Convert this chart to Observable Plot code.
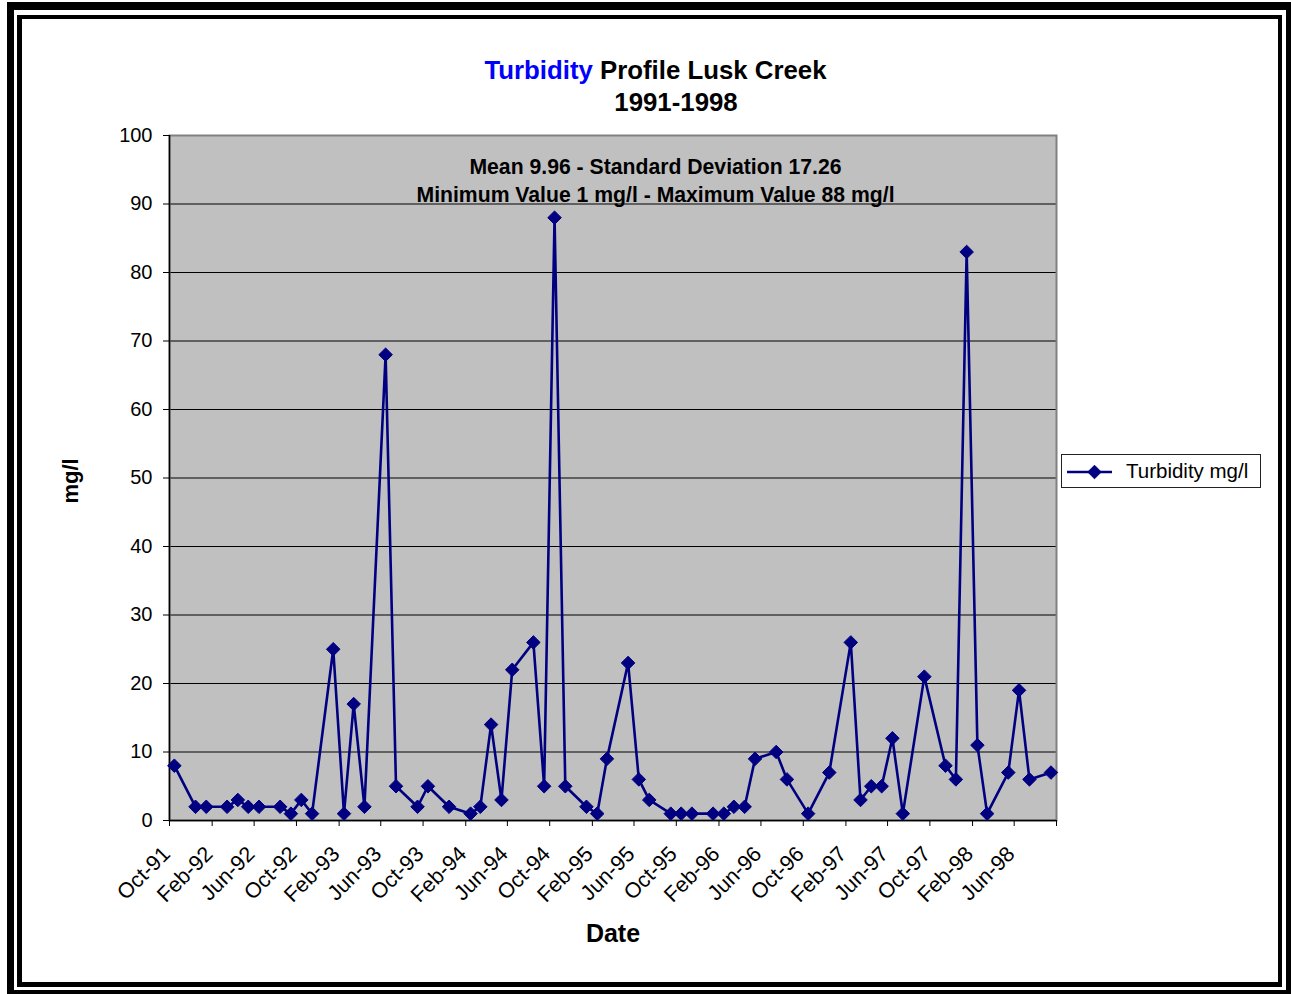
<!DOCTYPE html>
<html><head><meta charset="utf-8">
<script src="https://cdn.jsdelivr.net/npm/d3@7"></script>
<script src="https://cdn.jsdelivr.net/npm/@observablehq/plot@0.6"></script>
<style>
body{margin:0;background:#fff;}
#wrap{position:relative;width:1291px;height:994px;overflow:hidden;background:#fff;font-family:"Liberation Sans",Arial,sans-serif;}
#wrap > svg{position:absolute;left:0;top:0;}
</style></head><body><div id="wrap"></div>
<script>
// ---- data ----
const sampleMonths = ["Oct-91","Dec-91","Jan-92","Mar-92","Apr-92","May-92","Jun-92","Aug-92","Sep-92","Oct-92","Nov-92",
  "Jan-93","Feb-93","Mar-93","Apr-93","Jun-93","Jul-93","Sep-93","Oct-93","Dec-93",
  "Feb-94","Mar-94","Apr-94","May-94","Jun-94","Aug-94","Sep-94","Oct-94","Nov-94",
  "Jan-95","Feb-95","Mar-95","May-95","Jun-95","Jul-95","Sep-95","Oct-95","Nov-95",
  "Jan-96","Feb-96","Mar-96","Apr-96","May-96","Jul-96","Aug-96","Oct-96","Dec-96",
  "Feb-97","Mar-97","Apr-97","May-97","Jun-97","Jul-97","Sep-97","Nov-97","Dec-97",
  "Jan-98","Feb-98","Mar-98","May-98","Jun-98","Jul-98","Sep-98"];
const turbidity = [8,2,2,2,3,2,2,2,1,3,1,
  25,1,17,2,68,5,2,5,2,
  1,2,14,3,22,26,5,88,5,
  2,1,9,23,6,3,1,1,1,
  1,1,2,2,9,10,6,1,7,
  26,3,5,5,12,1,21,8,6,
  83,11,1,7,19,6,7];
const xTickLabels = ["Oct-91","Feb-92","Jun-92","Oct-92","Feb-93","Jun-93","Oct-93","Feb-94","Jun-94","Oct-94",
  "Feb-95","Jun-95","Oct-95","Feb-96","Jun-96","Oct-96","Feb-97","Jun-97","Oct-97","Feb-98","Jun-98"];
const xAxisEnd = "Oct-98";
const yTicks = [0,10,20,30,40,50,60,70,80,90,100];
const seriesName = "Turbidity mg/l";
const titleBlue = "Turbidity";
const titleRest = " Profile Lusk Creek";
const titleLine2 = "1991-1998";
const noteLines = ["Mean 9.96 - Standard Deviation 17.26", "Minimum Value 1 mg/l - Maximum Value 88 mg/l"];

// ---- build ----
const parse = d3.utcParse("%b-%y");
const fmt = d3.utcFormat("%b-%y");
const data = sampleMonths.map((m, i) => ({date: d3.utcDay.offset(parse(m), 14), value: turbidity[i]}));
const tickDates = xTickLabels.map(parse);
const endDate = parse(xAxisEnd);
const allTicks = [...tickDates, endDate];
const navy = "#000080";
const font = '"Liberation Sans", Arial, sans-serif';

const W = 1291, H = 994;
const plot = Plot.plot({
  width: W, height: H,
  marginLeft: 169, marginRight: W - 1056, marginTop: 135, marginBottom: H - 820,
  style: {fontFamily: font, fontSize: "20px", color: "black", background: "transparent", overflow: "visible"},
  x: {type: "utc", domain: [tickDates[0], endDate]},
  y: {domain: [0, 100]},
  marks: [
    Plot.frame({fill: "#c0c0c0"}),
    Plot.gridY(yTicks.slice(1, -1), {stroke: "black", strokeOpacity: 1, strokeWidth: 1}),
    Plot.frame({stroke: "#808080", strokeWidth: 2}),
    Plot.ruleY([0], {stroke: "black", strokeWidth: 1.5}),
    Plot.ruleX([tickDates[0]], {stroke: "black", strokeWidth: 1.5}),
    Plot.axisY({ticks: yTicks, tickSize: 6, tickPadding: 11, label: null, fontSize: 20, fill: "black"}),
    // tick marks only
    Plot.axisX({ticks: allTicks, tickFormat: () => "", tickSize: 6, label: null, stroke: "black"}),
    // rotated labels only
    Plot.axisX({ticks: tickDates, tickFormat: fmt, tickSize: 0, tickPadding: 30, dx: -3,
      tickRotate: -45, label: null, fontSize: 21.5, fill: "black"}),
    Plot.line(data, {x: "date", y: "value", stroke: navy, strokeWidth: 2.6}),
    Plot.dot(data, {x: "date", y: "value", symbol: "diamond2", r: 6.1, fill: navy, stroke: navy, strokeWidth: 1})
  ]
});
const wrap = document.getElementById("wrap");
wrap.appendChild(plot);

// ---- overlay: titles, labels, legend, border ----
const ov = d3.select(wrap).append("svg").attr("width", W).attr("height", H)
  .style("font-family", font).style("pointer-events", "none");

const t1 = ov.append("text").attr("x", 655.5).attr("y", 78.5).attr("text-anchor", "middle")
  .attr("font-size", 25.8).attr("font-weight", "bold");
t1.append("tspan").attr("fill", "#0000ff").text(titleBlue);
t1.append("tspan").attr("fill", "black").text(titleRest);
ov.append("text").attr("x", 676).attr("y", 111).attr("text-anchor", "middle")
  .attr("font-size", 25.8).attr("font-weight", "bold").text(titleLine2);

noteLines.forEach((s, i) => ov.append("text").attr("x", 655.5).attr("y", 173.5 + i * 28.5)
  .attr("text-anchor", "middle").attr("font-size", 21.2).attr("font-weight", "bold").text(s));

ov.append("text").attr("transform", "translate(78,481) rotate(-90)").attr("text-anchor", "middle")
  .attr("font-size", 22).attr("font-weight", "bold").text("mg/l");
ov.append("text").attr("x", 613).attr("y", 942).attr("text-anchor", "middle")
  .attr("font-size", 25).attr("font-weight", "bold").text("Date");

// legend
ov.append("rect").attr("x", 1061.5).attr("y", 454.5).attr("width", 199).attr("height", 33)
  .attr("fill", "white").attr("stroke", "#222").attr("stroke-width", 1);
ov.append("line").attr("x1", 1067).attr("x2", 1112).attr("y1", 472).attr("y2", 472)
  .attr("stroke", navy).attr("stroke-width", 2.6);
ov.append("path").attr("d", d3.symbol(d3.symbolDiamond2, Math.PI * 6.1 * 6.1)())
  .attr("transform", "translate(1094.5,472)").attr("fill", navy).attr("stroke", navy);
ov.append("text").attr("x", 1126).attr("y", 478).attr("font-size", 20.5).text(seriesName);

// double border
const bars = [
  [7, 2, 7, 992], [7, 2, 1284, 8], [1286, 2, 5, 992], [7, 990, 1284, 4],
  [17, 15, 5, 972], [17, 15, 1265, 4], [1278, 15, 4, 972], [17, 982, 1265, 5]
];
bars.forEach(([x, y, w, h]) => ov.append("rect").attr("x", x).attr("y", y).attr("width", w).attr("height", h).attr("fill", "black"));
</script></body></html>
